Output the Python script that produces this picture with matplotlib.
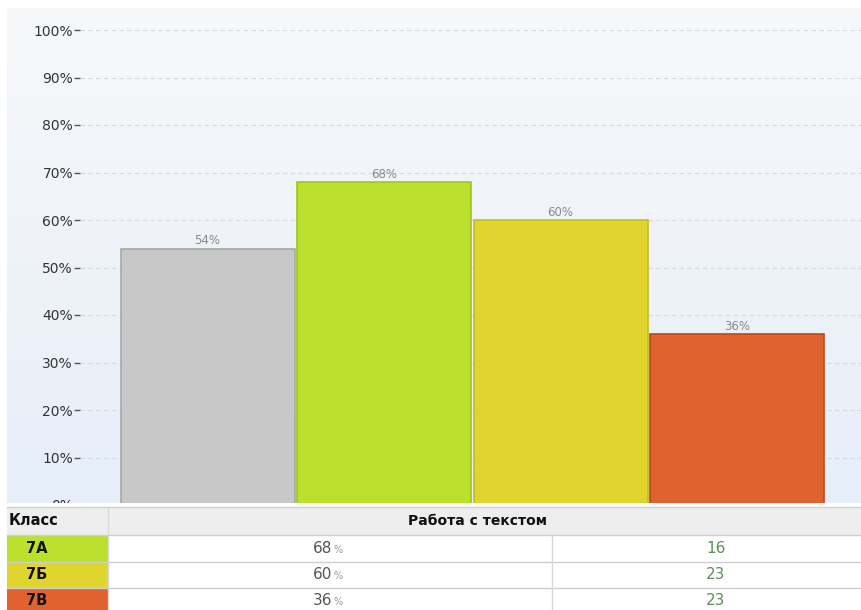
import matplotlib.pyplot as plt
import numpy as np
from matplotlib.colors import LinearSegmentedColormap
from matplotlib.patches import Rectangle

# values
bar_values = [54, 68, 60, 36]
bar_colors = ['#c8c8c8', '#bbe02e', '#e0d42e', '#e0622e']
bar_edges = ['#a8a8a8', '#a2c41f', '#c8bb1c', '#b84b20']
classes = ['7А', '7Б', '7В']
class_pct = [68, 60, 36]
class_count = [16, 23, 23]
class_colors = bar_colors[1:]
y_ticks = list(range(0, 101, 10))
table_title = 'Работа с текстом'

W, H = 861, 610
fig = plt.figure(figsize=(W / 100, H / 100), dpi=100)
fig.patch.set_facecolor('white')


def px_box(x0, y0, x1, y1):
    # pixel box (top-left origin) -> figure fraction
    return [x0 / W, 1 - y1 / H, (x1 - x0) / W, (y1 - y0) / H]


# soft gradient behind the chart
bg = fig.add_axes(px_box(7, 8, W, 520), zorder=0)
cmap = LinearSegmentedColormap.from_list('bg', ['#f7f8fa', '#e6eef8'])
bg.imshow(np.linspace(0, 1, 256).reshape(-1, 1), aspect='auto', cmap=cmap,
          extent=[0, 1, 0, 1], origin='upper')
bg.axis('off')

# main bar axes: 0% at y=505 px, 100% at y=30 px
ax = fig.add_axes(px_box(80, 8, W, 520), zorder=1)
ax.patch.set_alpha(0)
ppu = (505 - 30) / 100.0
ax.set_ylim(-(520 - 505) / ppu, (505 - 8) / ppu)
step = 176.5
x0c = 207.5
ax.set_xlim((80 - x0c) / step, (W - x0c) / step)

x = np.arange(len(bar_values))
ax.bar(x, bar_values, width=174 / step, color=bar_colors, edgecolor=bar_edges,
       linewidth=1.2, zorder=3)
for xi, v in zip(x, bar_values):
    ax.text(xi, v + 0.3, f'{v}%', ha='center', va='bottom', fontsize=8.5,
            color='#8a8a8a', zorder=4)

ax.set_yticks(y_ticks)
ax.set_yticklabels([f'{t}%' for t in y_ticks], fontsize=10, color='#333333')
ax.tick_params(axis='y', length=4, width=1, color='#555555', pad=1)
ax.set_xticks([])
ax.yaxis.grid(True, linestyle=(0, (4, 3)), color='#d6dadf', linewidth=0.8,
              zorder=0)
for s in ax.spines.values():
    s.set_visible(False)

# table below the chart
tb = fig.add_axes(px_box(0, 503, W, H), zorder=5)
tb.set_xlim(0, W)
tb.set_ylim(H, 503)
tb.axis('off')
tb.add_patch(Rectangle((0, 503), W, H - 503, color='white', zorder=0))

rows = [507, 535, 562, 588, 614]
c1, c2, c3 = 7, 108, 552
tb.add_patch(Rectangle((c1, rows[0]), W - c1, rows[1] - rows[0],
                       facecolor='#eeeeee', edgecolor='none', zorder=1))
tb.text(9, (rows[0] + rows[1]) / 2, 'Класс', ha='left', va='center',
        fontsize=10.5, fontweight='bold', color='#111111')
tb.text(478, (rows[0] + rows[1]) / 2, table_title, ha='center', va='center',
        fontsize=10, fontweight='bold', color='#111111')

for i, (cls, pct, cnt, col) in enumerate(zip(classes, class_pct, class_count,
                                             class_colors)):
    top, bot = rows[i + 1], rows[i + 2]
    cy = (top + bot) / 2
    tb.add_patch(Rectangle((c1, top), c2 - c1, bot - top, facecolor=col,
                           edgecolor='none', zorder=1))
    tb.text(26, cy, cls, ha='left', va='center', fontsize=10.5,
            fontweight='bold', color='#111111')
    tb.text(332, cy, str(pct), ha='right', va='center', fontsize=11,
            color='#555555')
    tb.text(333, cy + 1.5, '%', ha='left', va='center', fontsize=7,
            color='#999999')
    tb.text(716, cy, str(cnt), ha='center', va='center', fontsize=11,
            color='#5a8f5a')

for r in rows[:4]:
    tb.plot([c1, W], [r, r], color='#cfcfcf', linewidth=1, zorder=2)
tb.plot([c2, c2], [rows[0], H], color='#d8d8d8', linewidth=1, zorder=2)
tb.plot([c3, c3], [rows[1], H], color='#d8d8d8', linewidth=1, zorder=2)

fig.savefig('out.png', dpi=100, facecolor='white')
